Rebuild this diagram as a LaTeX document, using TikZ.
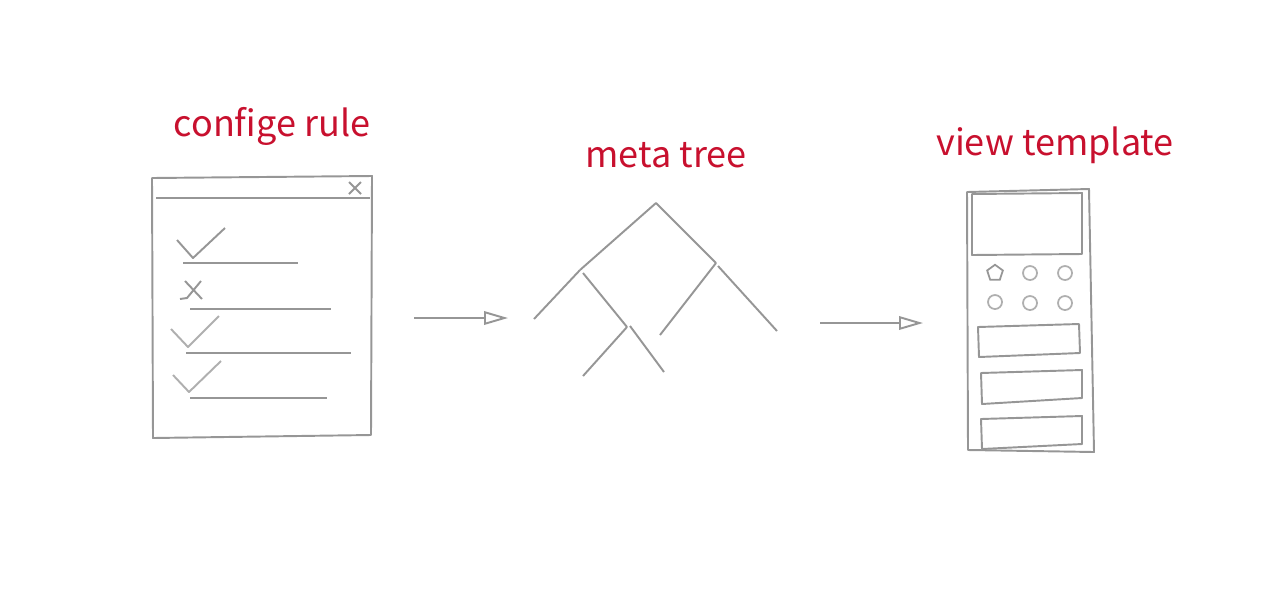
\documentclass[tikz,border=0pt]{standalone}
\usepackage{fontspec}
\newfontfamily\lblfont{Noto Sans CJK SC}
\usetikzlibrary{arrows.meta,shapes.geometric}
\definecolor{lg}{RGB}{150,150,150}
\definecolor{lgl}{RGB}{175,175,175}
\definecolor{rd}{RGB}{200,16,46}
\tikzset{
  sk/.style={draw=lg,line width=1.1pt,line join=round},
  skl/.style={draw=lgl,line width=1.1pt,line join=round},
  lbl/.style={text=rd,font=\lblfont\fontsize{20.5}{22}\selectfont,inner sep=0pt},
  arr/.style={sk,-{Triangle[open,length=0.48cm,width=0.27cm,line width=1.1pt]}},
  btn/.style={draw=lgl,line width=1pt,circle,minimum size=0.28cm,inner sep=0pt},
}
\begin{document}
\begin{tikzpicture}[x=0.02cm,y=-0.02cm]
\useasboundingbox (0,0) rectangle (1284,606);
% labels
\node[lbl] (l1) at (272,126) {confige rule};
\node[lbl] (l2) at (666,155) {meta tree};
\node[lbl] (l3) at (1055,145) {view template};
% config window
\draw[sk] (152,178) -- (372,176) -- (371,435) -- (153,438) -- cycle;
\draw[sk] (156,198) -- (370,198);
\draw[sk] (349,182) -- (361,194) (361,182) -- (349,194);
\draw[sk] (177,240) -- (193,258) -- (225,228);
\draw[sk] (183,263) -- (298,263);
\draw[sk] (185,281) -- (202,299) (201,281) -- (187,298) -- (180,299);
\draw[sk] (190,309) -- (331,309);
\draw[skl] (171,329) -- (188,347) -- (219,316);
\draw[sk] (186,353) -- (351,353);
\draw[skl] (173,375) -- (189,392) -- (221,361);
\draw[sk] (190,398) -- (327,398);
% tree
\coordinate (r) at (656,203);
\coordinate (n1) at (580,270);
\coordinate (n2) at (716,263);
\coordinate (n3) at (627,327);
\draw[sk] (n1) -- (r) -- (n2);
\draw[sk] (n1) -- (534,319);
\draw[sk] (583,273) -- (n3);
\draw[sk] (n3) -- (583,376);
\draw[sk] (630,326) -- (664,372);
\draw[sk] (n2) -- (660,335);
\draw[sk] (718,266) -- (777,331);
% arrows
\coordinate (a1s) at (414,318);
\coordinate (a1e) at (508,318);
\coordinate (a2s) at (820,323);
\coordinate (a2e) at (923,323);
\draw[arr] (a1s) -- (a1e);
\draw[arr] (a2s) -- (a2e);
% phone
\draw[sk] (967,192) -- (1089,189) -- (1094,452) -- (968,450) -- cycle;
\draw[sk] (972,194) -- (1082,193) -- (1082,254) -- (972,255) -- cycle;
\node[draw=lg,line width=1pt,regular polygon,regular polygon sides=5,minimum size=0.33cm,inner sep=0pt] (b1) at (995,273) {};
\node[btn] (b2) at (1030,273) {};
\node[btn] (b3) at (1065,273) {};
\node[btn] (b4) at (995,302) {};
\node[btn] (b5) at (1030,303) {};
\node[btn] (b6) at (1065,303) {};
\draw[sk] (978,327) -- (1079,324) -- (1080,353) -- (979,357) -- cycle;
\draw[sk] (981,373) -- (1082,370) -- (1082,398) -- (982,404) -- cycle;
\draw[sk] (981,419) -- (1082,416) -- (1082,444) -- (982,449) -- cycle;
\end{tikzpicture}
\end{document}
